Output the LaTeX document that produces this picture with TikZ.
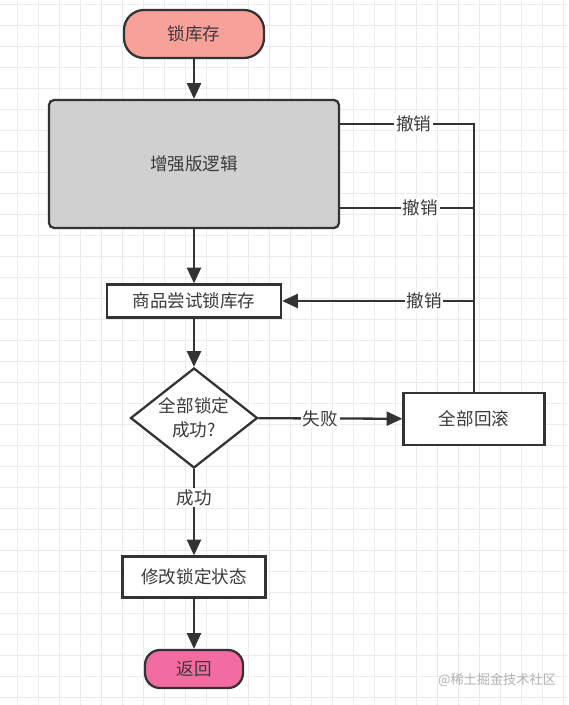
\documentclass[tikz,border=0pt]{standalone}
\usepackage{fontspec}
\setmainfont{Noto Sans CJK SC}
\usetikzlibrary{shapes.geometric,arrows.meta}
\definecolor{salmon}{HTML}{F8A19B}
\definecolor{pinkret}{HTML}{F26CA2}
\definecolor{boxgray}{HTML}{D0D0D0}
\definecolor{edge}{HTML}{333333}
\definecolor{txt}{HTML}{3A3A3A}
\definecolor{gridc}{HTML}{EBEBEB}
\tikzset{
  base/.style={draw=edge,line width=1.3pt,text=txt,font=\fontsize{10}{13.6}\selectfont},
  pill/.style={base,rectangle,rounded corners=0.4cm},
  procbox/.style={base,rectangle},
  decision/.style={base,diamond,shape aspect=1.27,inner sep=0pt,align=center,fill=white},
  lbl/.style={fill=white,inner sep=1pt,text=txt,font=\fontsize{10}{12}\selectfont},
  arr/.style={draw=edge,line width=1.3pt,-{Triangle[length=9pt,width=8pt]}},
  line/.style={draw=edge,line width=1.3pt}
}
\begin{document}
\begin{tikzpicture}[x=0.02cm,y=-0.02cm]
\useasboundingbox (0,0) rectangle (568,705);
% mrizka na pozadi
\fill[white] (0,0) rectangle (568,705);
\foreach \x in {17,38,...,568}
  \draw[gridc,line width=0.5pt] (\x,0) -- (\x,705);
\foreach \y in {4,25,...,705}
  \draw[gridc,line width=0.5pt] (0,\y) -- (568,\y);
% uzly
\node[pill,fill=salmon,minimum width=2.8cm,minimum height=0.96cm] (start) at (194,34) {锁库存};
\node[procbox,fill=boxgray,rounded corners=0.1cm,minimum width=5.8cm,minimum height=2.56cm] (logic) at (194,164) {增强版逻辑};
\node[procbox,fill=white,minimum width=3.48cm,minimum height=0.66cm] (tryLock) at (194,301) {商品尝试锁库存};
\node[decision,minimum width=2.54cm,minimum height=2cm] (check) at (194,418) {全部锁定\\成功?};
\node[procbox,fill=white,minimum width=2.82cm,minimum height=1.04cm] (rollback) at (474,419) {全部回滚};
\node[procbox,fill=white,minimum width=2.86cm,minimum height=0.82cm] (update) at (194,577) {修改锁定状态};
\node[pill,fill=pinkret,minimum width=1.96cm,minimum height=0.76cm,rounded corners=0.3cm] (ret) at (194,669) {返回};
% hlavni tok
\draw[arr] (start) -- (logic);
\draw[arr] (logic) -- (tryLock);
\draw[arr] (tryLock) -- (check);
\draw[arr] (check) -- node[lbl,pos=0.43] {失败} (rollback);
\draw[arr] (check) -- node[lbl,pos=0.33] {成功} (update);
\draw[arr] (update) -- (ret);
% vetve zpet (撤销)
\path ([yshift=0.8cm]logic.east) coordinate (undoA);
\path ([yshift=-0.88cm]logic.east) coordinate (undoB);
\draw[line] (rollback.north) -- (rollback.north |- undoA) -- node[lbl,pos=0.45] {撤销} (undoA);
\draw[line] (rollback.north |- undoB) -- node[lbl,pos=0.4] {撤销} (undoB);
\draw[arr] (rollback.north |- tryLock.east) -- node[lbl,pos=0.26] {撤销} (tryLock.east);
% vodoznak
\node[text=gray!60,font=\fontsize{7.5}{9}\selectfont] (mark) at (497,680) {@稀土掘金技术社区};
\end{tikzpicture}
\end{document}
